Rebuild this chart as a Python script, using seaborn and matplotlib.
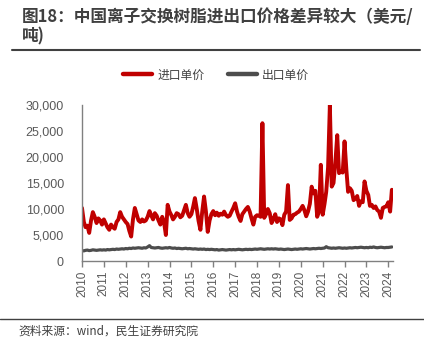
import numpy as np
import pandas as pd
import matplotlib
matplotlib.use("Agg")
import matplotlib.pyplot as plt
import seaborn as sns
from matplotlib.lines import Line2D

# ---------------- data ----------------
series_names = ["进口单价", "出口单价"]
start_month = "2010-01"

import_price = [
    # 2010
    10200, 7500, 6500, 6800, 5400, 7800, 9400, 8500, 7300, 8200, 7800, 7000,
    # 2011
    8000, 7200, 6500, 6000, 7000, 6500, 6200, 7500, 8000, 9400, 8500, 8000,
    # 2012
    7500, 7100, 5800, 4700, 8000, 10200, 9000, 7800, 7500, 8000, 7600, 7800,
    # 2013
    8500, 9600, 8800, 8000, 9200, 8700, 7800, 7000, 8500, 7500, 5000, 10800,
    # 2014
    9500, 8800, 8000, 8500, 9200, 9000, 8400, 8700, 9800, 10800, 9200, 8500,
    # 2015
    9000, 10500, 12100, 10000, 7700, 6000, 9500, 12400, 9500, 5600, 7800, 9000,
    # 2016
    9600, 8800, 9300, 8700, 9100, 8900, 9500, 8800, 8500, 8700, 9500, 10200,
    # 2017
    11100, 9500, 8500, 7700, 9000, 9500, 10000, 10400, 9500, 8200, 7000, 8500,
    # 2018
    8800, 8700, 8500, 26500, 8300, 9000, 10000, 9200, 7300, 8000, 9000, 7500,
    # 2019
    8200, 8000, 6900, 8900, 9500, 14600, 7900, 8200, 8900, 9000, 9300, 9500,
    # 2020
    10000, 10600, 9800, 8600, 9500, 11000, 14300, 13000, 13500, 8500, 9500, 18500,
    # 2021
    8900, 11000, 13300, 18000, 30000, 14300, 15000, 19000, 24200, 16900, 17200, 17000,
    # 2022
    23000, 17500, 13300, 14000, 13500, 11700, 12000, 12500, 10600, 11500, 11300, 15300,
    # 2023
    13500, 12700, 10600, 10800, 10200, 10500, 9800, 9500, 8300, 10200, 10400, 10500,
    # 2024
    11300, 9500, 13700,
]

export_price = [
    # 2010
    2000, 1950, 2050, 2100, 2000, 2050, 2150, 2100, 2050, 2100, 2150, 2100,
    # 2011
    2150, 2100, 2200, 2150, 2200, 2250, 2200, 2300, 2250, 2300, 2350, 2300,
    # 2012
    2400, 2350, 2450, 2400, 2500, 2450, 2500, 2550, 2500, 2450, 2550, 2500,
    # 2013
    2700, 2950, 2600, 2550, 2500, 2550, 2600, 2500, 2450, 2500, 2550, 2500,
    # 2014
    2600, 2500, 2450, 2500, 2400, 2450, 2400, 2350, 2400, 2450, 2350, 2400,
    # 2015
    2350, 2300, 2350, 2300, 2250, 2300, 2250, 2300, 2200, 2250, 2200, 2250,
    # 2016
    2200, 2150, 2200, 2100, 2150, 2200, 2150, 2100, 2150, 2200, 2150, 2200,
    # 2017
    2150, 2200, 2250, 2200, 2150, 2200, 2250, 2200, 2250, 2200, 2250, 2300,
    # 2018
    2250, 2300, 2350, 2300, 2250, 2300, 2350, 2300, 2350, 2300, 2350, 2300,
    # 2019
    2250, 2300, 2250, 2200, 2250, 2300, 2250, 2200, 2250, 2300, 2250, 2300,
    # 2020
    2350, 2300, 2350, 2400, 2350, 2300, 2350, 2400, 2350, 2400, 2450, 2400,
    # 2021
    2450, 2500, 2750, 2550, 2500, 2450, 2500, 2450, 2500, 2550, 2500, 2450,
    # 2022
    2500, 2450, 2500, 2550, 2500, 2550, 2600, 2550, 2600, 2650, 2600, 2550,
    # 2023
    2600, 2550, 2650, 2600, 2700, 2600, 2550, 2600, 2650, 2600, 2550, 2600,
    # 2024
    2600, 2650, 2700,
]

year_ticks = [str(y) for y in range(2010, 2025)]
y_ticks = [0, 5000, 10000, 15000, 20000, 25000, 30000]

title_text = "图18：中国离子交换树脂进出口价格差异较大（美元/\n吨)"
source_text = "资料来源：wind，民生证券研究院"

# ---------------- build frame ----------------
dates = pd.date_range(start_month, periods=len(import_price), freq="MS")
df = pd.concat([
    pd.DataFrame({"date": dates, "value": import_price, "series": series_names[0]}),
    pd.DataFrame({"date": dates, "value": export_price, "series": series_names[1]}),
])

# ---------------- style ----------------
sns.set_style("white")
plt.rcParams["font.family"] = ["Noto Sans CJK SC", "DejaVu Sans"]

fig = plt.figure(figsize=(4.24, 3.46), dpi=100)
ax = fig.add_axes([82 / 424, 1 - 261 / 346, (393 - 82) / 424, (261 - 105) / 346])

colors = {series_names[0]: "#C00000", series_names[1]: "#4D4D4D"}
sns.lineplot(data=df[df.series == series_names[1]], x="date", y="value",
             color=colors[series_names[1]], lw=2.3, ax=ax, legend=False)
sns.lineplot(data=df[df.series == series_names[0]], x="date", y="value",
             color=colors[series_names[0]], lw=2.8, ax=ax, legend=False)

ax.set_ylim(0, 30000)
ax.set_xlim(pd.Timestamp("2010-01-01"), pd.Timestamp("2024-03-20"))
ax.set_yticks(y_ticks)
ax.set_yticklabels([f"{v:,}" for v in y_ticks], fontsize=9, color="#595959",
                   family=["Liberation Sans", "DejaVu Sans"])
ax.set_xticks([pd.Timestamp(f"{y}-01-01") for y in year_ticks])
ax.set_xticklabels(year_ticks, rotation=90, fontsize=8.5, color="#595959",
                   family=["Liberation Sans", "DejaVu Sans"])
ax.set_xlabel("")
ax.set_ylabel("")

for s in ["top", "right"]:
    ax.spines[s].set_visible(False)
for s in ["left", "bottom"]:
    ax.spines[s].set_color("#808080")
    ax.spines[s].set_linewidth(1.0)
ax.tick_params(axis="x", which="major", direction="out", length=4, width=1,
               color="#808080", pad=3, bottom=True)
ax.tick_params(axis="y", length=0, pad=13)
ax.grid(False)

# legend
handles = [Line2D([0], [0], color=colors[n], lw=3.2) for n in series_names]
fig.legend(handles, series_names, loc="center", bbox_to_anchor=(216 / 424, 1 - 75 / 346),
           ncol=2, frameon=False, fontsize=8.5, handlelength=2.5, columnspacing=2.0,
           handletextpad=0.4, labelcolor="#404040")

# title
fig.text(22 / 424, 1 - 8 / 346, title_text, ha="left", va="top", fontsize=12,
         fontweight="bold", color="#404040", linespacing=1.1)
fig.add_artist(Line2D([12 / 424, 420 / 424], [1 - 50 / 346, 1 - 50 / 346],
                      color="#404040", lw=1.5))

# footer
fig.add_artist(Line2D([0, 1], [1 - 319 / 346, 1 - 319 / 346], color="#404040", lw=1.0))
fig.text(18 / 424, 1 - 331 / 346, source_text, ha="left", va="center", fontsize=8.5,
         color="#404040")

fig.savefig("out.png", dpi=100)
